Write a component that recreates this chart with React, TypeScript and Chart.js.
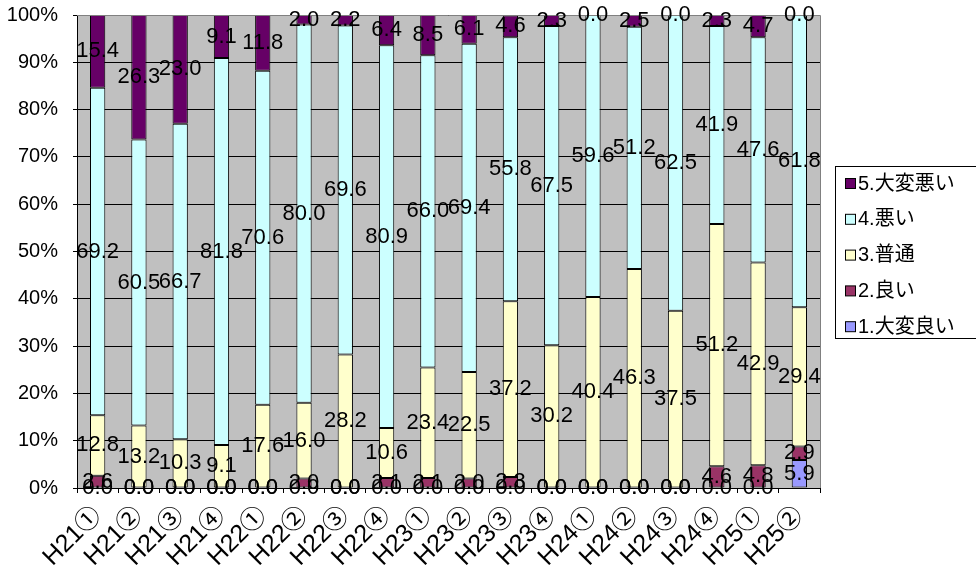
import React, { useEffect, useRef } from "react";
import { Chart, registerables } from "chart.js";

Chart.register(...registerables);

const categories = [
  "H21①", "H21②", "H21③", "H21④",
  "H22①", "H22②", "H22③", "H22④",
  "H23①", "H23②", "H23③", "H23④",
  "H24①", "H24②", "H24③", "H24④",
  "H25①", "H25②",
];

const seriesNames = ["1.大変良い", "2.良い", "3.普通", "4.悪い", "5.大変悪い"];
const seriesColors = ["#9999FF", "#993366", "#FFFFCC", "#CCFFFF", "#660066"];

const veryGood = [0.0, 0.0, 0.0, 0.0, 0.0, 0.0, 0.0, 0.0, 0.0, 0.0, 0.0, 0.0, 0.0, 0.0, 0.0, 0.0, 0.0, 5.9];
const good = [2.6, 0.0, 0.0, 0.0, 0.0, 2.0, 0.0, 2.1, 2.1, 2.0, 2.3, 0.0, 0.0, 0.0, 0.0, 4.6, 4.8, 2.9];
const normal = [12.8, 13.2, 10.3, 9.1, 17.6, 16.0, 28.2, 10.6, 23.4, 22.5, 37.2, 30.2, 40.4, 46.3, 37.5, 51.2, 42.9, 29.4];
const bad = [69.2, 60.5, 66.7, 81.8, 70.6, 80.0, 69.6, 80.9, 66.0, 69.4, 55.8, 67.5, 59.6, 51.2, 62.5, 41.9, 47.6, 61.8];
const veryBad = [15.4, 26.3, 23.0, 9.1, 11.8, 2.0, 2.2, 6.4, 8.5, 6.1, 4.6, 2.3, 0.0, 2.5, 0.0, 2.3, 4.7, 0.0];

const yTicks = [0, 10, 20, 30, 40, 50, 60, 70, 80, 90, 100];

const FONT = '"Liberation Sans", "Noto Sans CJK JP", sans-serif';

const bgPlugin = {
  id: "plotBg",
  beforeDraw(chart: any) {
    const { ctx, chartArea } = chart;
    ctx.save();
    ctx.fillStyle = "#C0C0C0";
    ctx.fillRect(chartArea.left, chartArea.top, chartArea.right - chartArea.left, chartArea.bottom - chartArea.top);
    ctx.restore();
  },
  afterDatasetsDraw(chart: any) {
    const { ctx, chartArea } = chart;
    ctx.save();
    ctx.strokeStyle = "#808080";
    ctx.lineWidth = 1;
    ctx.beginPath();
    ctx.moveTo(chartArea.left, chartArea.top + 0.5);
    ctx.lineTo(chartArea.right + 0.5, chartArea.top + 0.5);
    ctx.lineTo(chartArea.right + 0.5, chartArea.bottom);
    ctx.stroke();
    ctx.restore();
  },
};

const labelPlugin = {
  id: "segLabels",
  afterDraw(chart: any) {
    const { ctx } = chart;
    ctx.save();
    ctx.font = `22px ${FONT}`;
    ctx.fillStyle = "#000";
    ctx.textAlign = "center";
    ctx.textBaseline = "middle";
    chart.data.datasets.forEach((ds: any, di: number) => {
      const meta = chart.getDatasetMeta(di);
      meta.data.forEach((el: any, i: number) => {
        const v = ds.data[i];
        const y = (el.y + el.base) / 2;
        ctx.fillText(Number(v).toFixed(1), el.x, y);
      });
    });
    ctx.restore();
  },
};

const legendPlugin = {
  id: "boxLegend",
  afterDraw(chart: any) {
    const { ctx } = chart;
    ctx.save();
    const left = 835.5, top = 166.5, right = 990, bottom = 338.5;
    ctx.fillStyle = "#fff";
    ctx.fillRect(left, top, right - left, bottom - top);
    ctx.strokeStyle = "#000";
    ctx.lineWidth = 1;
    ctx.strokeRect(left, top, right - left, bottom - top);
    ctx.font = `20px ${FONT}`;
    ctx.textBaseline = "middle";
    ctx.textAlign = "left";
    const order = [4, 3, 2, 1, 0];
    order.forEach((si, k) => {
      const cy = 184 + k * 35.8;
      ctx.fillStyle = seriesColors[si];
      ctx.fillRect(845.5, cy - 5.5, 10, 10);
      ctx.strokeStyle = "#000";
      ctx.strokeRect(845.5, cy - 5.5, 10, 10);
      ctx.fillStyle = "#000";
      ctx.fillText(seriesNames[si], 858, cy);
    });
    ctx.restore();
  },
};

export default function App() {
  const ref = useRef<HTMLCanvasElement>(null);
  useEffect(() => {
    if (!ref.current) return;
    const seriesData = [veryGood, good, normal, bad, veryBad];
    const chart = new Chart(ref.current, {
      type: "bar",
      data: {
        labels: categories,
        datasets: seriesNames.map((name, i) => ({
          label: name,
          data: seriesData[i],
          backgroundColor: seriesColors[i],
          borderColor: "#000",
          borderWidth: 1,
          borderSkipped: false,
          barPercentage: 0.37,
          categoryPercentage: 1,
        })),
      },
      options: {
        responsive: false,
        animation: false,
        devicePixelRatio: 1,
        layout: { padding: { top: 15, right: 156, left: 0, bottom: 0 } },
        plugins: {
          legend: { display: false },
          tooltip: { enabled: false },
        },
        scales: {
          x: {
            stacked: true,
            offset: true,
            grid: {
              display: true,
              drawOnChartArea: false,
              drawTicks: true,
              tickLength: 5,
              offset: true,
              color: "#000",
            },
            border: { color: "#000" },
            ticks: {
              autoSkip: false,
              maxRotation: 45,
              minRotation: 45,
              color: "#000",
              font: { family: FONT, size: 25 },
              padding: 8,
            },
            afterFit(scale: any) {
              scale.height = 85;
              scale.paddingLeft = 0;
              scale.paddingRight = 0;
            },
          },
          y: {
            stacked: true,
            min: 0,
            max: 100,
            afterBuildTicks(scale: any) {
              scale.ticks = yTicks.map((v) => ({ value: v }));
            },
            grid: { color: "#000", tickLength: 4 },
            border: { color: "#000" },
            ticks: {
              stepSize: 10,
              color: "#000",
              font: { family: FONT, size: 20 },
              padding: 15,
              callback: (v: any) => `${v}%`,
            },
            afterFit(scale: any) {
              scale.width = 77;
              scale.paddingTop = 0;
              scale.paddingBottom = 0;
            },
          },
        },
      },
      plugins: [bgPlugin, labelPlugin, legendPlugin],
    });
    return () => chart.destroy();
  }, []);
  return (
    <div style={{ position: "absolute", left: 0, top: 0, width: 976, height: 573, background: "#fff" }}>
      <canvas ref={ref} width={976} height={573} style={{ display: "block" }} />
    </div>
  );
}
